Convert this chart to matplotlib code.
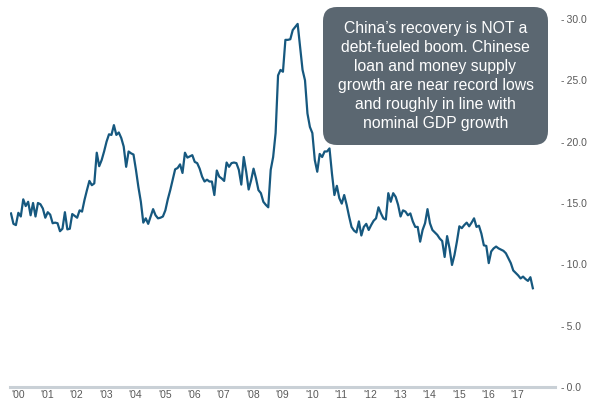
import numpy as np
import matplotlib
matplotlib.use("Agg")
import matplotlib.pyplot as plt
from matplotlib.patches import FancyBboxPatch

# =========================================
# DATA (China money supply growth, % y/y, monthly from Jan 2000)
# =========================================
START_YEAR = 2000
growth = [
    14.15, 13.3, 13.2, 14.2, 13.9, 15.3, 14.75, 15.1, 14.0, 15.0,
    13.9, 15.0, 14.9, 14.55, 13.8, 14.25, 14.05, 13.35, 13.4, 13.35,
    12.7, 12.9, 14.25, 12.85, 12.9, 14.1, 13.95, 13.8, 14.4, 14.3,
    15.25, 16.05, 16.8, 16.45, 16.6, 19.1, 18.0, 18.5, 19.2, 20.0,
    20.6, 20.55, 21.35, 20.55, 20.75, 20.3, 19.6, 17.95, 19.2, 19.05,
    18.95, 17.7, 16.3, 15.1, 13.4, 13.75, 13.3, 13.9, 14.5, 14.0,
    13.75, 13.8, 13.9, 14.4, 15.3, 16.05, 16.9, 17.75, 17.85, 18.15,
    17.45, 19.1, 18.7, 18.8, 18.9, 18.35, 18.25, 17.8, 17.15, 16.75,
    16.9, 16.75, 16.75, 15.65, 17.65, 17.15, 17.0, 16.8, 18.3, 17.95,
    18.25, 18.3, 18.25, 17.7, 16.5, 18.75, 17.55, 16.1, 16.85, 17.8,
    17.0, 16.05, 15.8, 15.1, 14.85, 14.65, 17.7, 18.75, 20.7, 25.4,
    25.85, 25.7, 28.3, 28.3, 28.35, 29.1, 29.35, 29.6, 27.7, 25.85,
    25.0, 22.3, 21.2, 20.7, 18.5, 17.55, 19.0, 18.75, 19.2, 19.2,
    19.45, 17.4, 15.65, 16.4, 15.4, 14.95, 15.65, 14.85, 13.9, 13.05,
    12.75, 12.6, 13.5, 12.35, 13.05, 13.3, 12.8, 13.2, 13.55, 13.75,
    14.65, 14.15, 13.75, 13.65, 15.8, 15.1, 15.8, 15.5, 14.85, 13.9,
    14.4, 14.3, 14.0, 14.15, 13.5, 13.05, 13.05, 11.85, 12.8, 13.35,
    14.5, 13.35, 12.8, 12.6, 12.4, 12.1, 11.9, 10.6, 12.3, 11.3,
    9.95, 10.75, 11.85, 13.1, 12.95, 13.2, 13.4, 13.1, 13.4, 13.75,
    13.05, 13.15, 12.5, 11.55, 11.5, 10.1, 11.05, 11.3, 11.45, 11.3,
    11.2, 11.1, 10.9, 10.5, 10.1, 9.5, 9.3, 9.1, 8.85, 9.0,
    8.8, 8.65, 8.95, 8.05,
]
years = list(range(2000, 2018))
year_labels = ["'" + str(y)[2:] for y in years]
y_ticks = [0, 5, 10, 15, 20, 25, 30]
note = ("China\u2019s recovery is NOT a\ndebt-fueled boom. Chinese\n"
        "loan and money supply\ngrowth are near record lows\n"
        "and roughly in line with\nnominal GDP growth")

LINE_COLOR = "#16587f"
TEXT_COLOR = "#595959"
BOX_COLOR = "#5b6771"
FONT = "Liberation Sans"

# =========================================
# PLOT
# =========================================
W, H = 590, 398
PX_PER_YEAR = 29.4
fig = plt.figure(figsize=(W / 100, H / 100), dpi=100)
ax = fig.add_axes([10 / W, 11 / H, 545 / W, 368 / H])

x = START_YEAR + np.arange(len(growth)) / 12.0
ax.plot(x, growth, color=LINE_COLOR, linewidth=1.6, solid_joinstyle="round")

ax.set_ylim(0, 30)
x0 = START_YEAR - 1 / PX_PER_YEAR
ax.set_xlim(x0, x0 + 545 / PX_PER_YEAR)

for side in ["top", "left", "right"]:
    ax.spines[side].set_visible(False)
ax.spines["bottom"].set_color("#c9d0d6")
ax.spines["bottom"].set_linewidth(2.2)

ax.yaxis.tick_right()
ax.set_yticks(y_ticks)
ax.set_yticklabels([f"-\u2009{v:.1f}" for v in y_ticks], fontsize=7.5,
                   color=TEXT_COLOR, family=FONT)
ax.tick_params(axis="y", length=0, pad=4.5)

ax.set_xticks(years)
ax.set_xticklabels(year_labels, fontsize=7.5, color=TEXT_COLOR,
                   family=FONT, ha="left")
ax.tick_params(axis="x", length=0, pad=2.5)

# annotation box drawn on a pixel-coordinate overlay
ov = fig.add_axes([0, 0, 1, 1])
ov.set_xlim(0, W)
ov.set_ylim(H, 0)
ov.axis("off")
box = FancyBboxPatch((323, 7), 225, 138,
                     boxstyle="round,pad=0,rounding_size=14",
                     facecolor=BOX_COLOR, edgecolor="none")
ov.add_patch(box)
ov.text(435.5, 76, note, ha="center", va="center", color="white",
        fontsize=11.3, family=FONT, linespacing=1.32)

plt.savefig("out.png", dpi=100)
plt.close()
